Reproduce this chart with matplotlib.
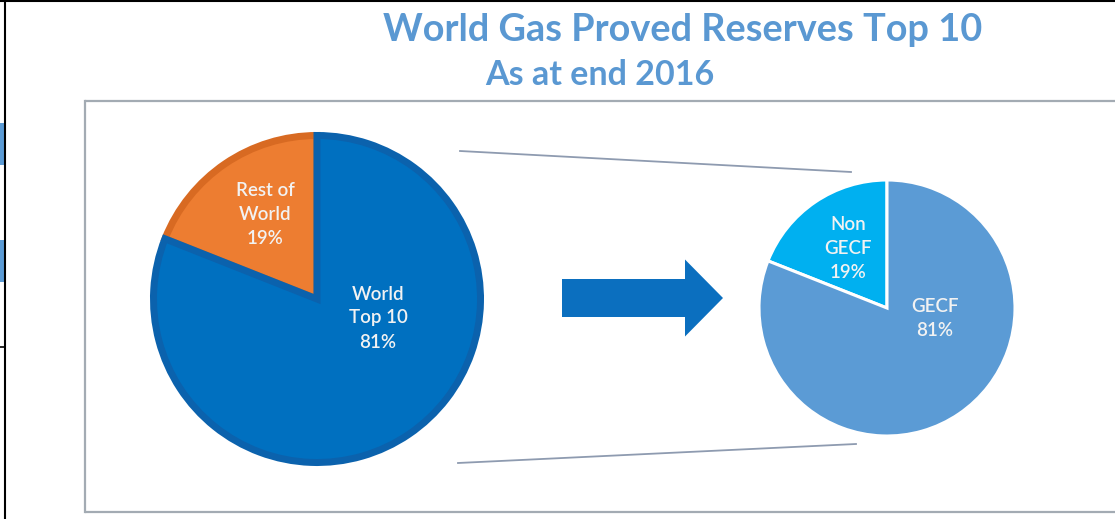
import matplotlib.pyplot as plt
from matplotlib.patches import Rectangle, FancyArrow

plt.rcParams['font.family'] = ['Lato', 'DejaVu Sans']

# data
left_labels = ['Rest of\nWorld\n19%', 'World\nTop 10\n81%']
left_values = [19, 81]
right_labels = ['Non\nGECF\n19%', 'GECF\n81%']
right_values = [19, 81]

title = 'World Gas Proved Reserves Top 10'
subtitle = 'As at end 2016'

W, H = 1115, 519


def Y(y):
    # image pixel row -> axes y
    return H - y


fig = plt.figure(figsize=(W / 100, H / 100), dpi=100)
ax = fig.add_axes([0, 0, 1, 1])

# left pie
lw_px = 7
wl, _ = ax.pie(left_values, startangle=90, counterclock=True,
               center=(317, Y(299)), radius=167 - lw_px / 2,
               colors=['#ED7D31', '#0070C0'],
               wedgeprops=dict(linewidth=lw_px * 0.72, joinstyle='miter'))
wl[0].set_edgecolor('#D86A22')
wl[1].set_edgecolor('#0B62AD')

# right pie
wr, _ = ax.pie(right_values, startangle=90, counterclock=True,
               center=(887, Y(308)), radius=128,
               colors=['#00B0F0', '#5B9BD5'],
               wedgeprops=dict(linewidth=2.2, edgecolor='white'))

ax.set_xlim(0, W)
ax.set_ylim(0, H)
ax.set_aspect('auto')
ax.axis('off')

# pie labels
lab_kw = dict(ha='center', va='center', color='#F2F2F2', fontsize=13.5,
              fontweight='semibold', linespacing=1.5)
ax.text(265, Y(215), left_labels[0], **lab_kw)
ax.text(378, Y(318), left_labels[1], **lab_kw)
ax.text(848, Y(248), right_labels[0], **lab_kw)
ax.text(935, Y(318), right_labels[1], **lab_kw)

# arrow
ax.add_patch(FancyArrow(562, Y(298), 161, 0, width=38, head_width=77,
                        head_length=38, length_includes_head=True,
                        color='#0B6FBF', lw=0))

# connector lines
ax.plot([460, 851], [Y(151), Y(172)], color='#8E9BB0', lw=1.3)
ax.plot([458, 856], [Y(463), Y(444)], color='#8E9BB0', lw=1.3)

# inner frame
ax.plot([85, W], [Y(101), Y(101)], color='#A3ABB3', lw=1.6, solid_capstyle='butt')
ax.plot([85, W], [Y(512), Y(512)], color='#A3ABB3', lw=1.6, solid_capstyle='butt')
ax.plot([85, 85], [Y(101), Y(512)], color='#A3ABB3', lw=1.6)

# titles
ax.text(683, Y(30), title, ha='center', va='center', color='#5A98D2',
        fontsize=27.3, fontweight='bold')
ax.text(600, Y(75), subtitle, ha='center', va='center', color='#5A98D2',
        fontsize=24.5, fontweight='bold')

# screenshot border bits
ax.plot([0, W], [Y(0.8), Y(0.8)], color='black', lw=1.5)
ax.plot([4.5, 4.5], [0, H], color='black', lw=1.5)
ax.plot([0, 5], [Y(347), Y(347)], color='black', lw=1.2)
ax.add_patch(Rectangle((0, Y(165)), 3.5, 42, color='#5B9BD5', lw=0))
ax.add_patch(Rectangle((0, Y(282)), 3.5, 42, color='#5B9BD5', lw=0))

fig.savefig('out.png', dpi=100, facecolor='white')
